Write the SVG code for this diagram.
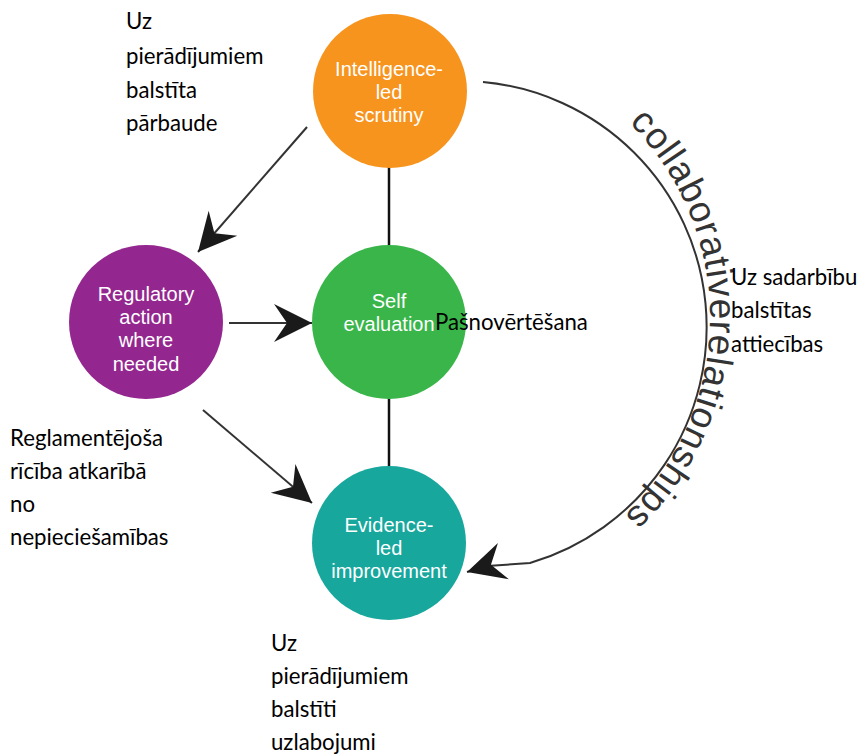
<svg xmlns="http://www.w3.org/2000/svg" width="858" height="755" viewBox="0 0 858 755">
<style>
.node-text{font-family:"Liberation Sans",Arial,sans-serif;font-size:20px;fill:#ffffff;text-anchor:middle}
.label{font-family:Lato,"Noto Sans",sans-serif;font-size:22.2px;fill:#000000}
.conn{stroke:#333333;stroke-width:2;fill:none}
.link{stroke:#111111;stroke-width:2.5;fill:none}
.curve-text{font-family:"Liberation Sans",Arial,sans-serif;font-size:37px;fill:#333333}
</style>
<defs>
<marker id="ah" markerUnits="userSpaceOnUse" markerWidth="42" markerHeight="42" viewBox="-40 -21 42 42" refX="0" refY="0" orient="auto" overflow="visible">
<path d="M0,0 L-38,-19 L-25,0 L-38,19 Z" fill="#1a1a1a"/>
</marker>
<path id="textArc" d="M623.2,117.3 A273,273 0 0 1 573.5,553.4"/>
</defs>
<rect width="858" height="755" fill="#ffffff"/>
<g id="connectors">
<line class="link" x1="389" y1="166" x2="389" y2="247"/>
<line class="link" x1="389" y1="397" x2="389" y2="468"/>
<line class="conn" x1="307" y1="127" x2="198" y2="252" marker-end="url(#ah)"/>
<line class="conn" x1="229" y1="323" x2="312" y2="323" marker-end="url(#ah)"/>
<line class="conn" x1="203" y1="410" x2="312" y2="503" marker-end="url(#ah)"/>
<path class="conn" d="M483,82 A246,246 0 0 1 530,563 L487,566 L467,572" marker-end="url(#ah)"/>
</g>
<g id="intelligence-led-scrutiny">
<circle cx="390" cy="91" r="77" fill="#F7941E"/>
<text class="node-text"><tspan x="389" y="76">Intelligence-</tspan><tspan x="389" y="99">led</tspan><tspan x="389" y="122">scrutiny</tspan></text>
</g>
<g id="regulatory-action">
<circle cx="146" cy="322" r="77" fill="#93278F"/>
<text class="node-text"><tspan x="146" y="301">Regulatory</tspan><tspan x="146" y="324">action</tspan><tspan x="146" y="347">where</tspan><tspan x="146" y="371">needed</tspan></text>
</g>
<g id="self-evaluation">
<circle cx="389" cy="322" r="77" fill="#39B54A"/>
<text class="node-text"><tspan x="389" y="308">Self</tspan><tspan x="389" y="331">evaluation</tspan></text>
</g>
<g id="evidence-led-improvement">
<circle cx="389" cy="543" r="77" fill="#17A79D"/>
<text class="node-text"><tspan x="389" y="532">Evidence-</tspan><tspan x="389" y="555">led</tspan><tspan x="389" y="578">improvement</tspan></text>
</g>
<g id="collaborative-relationships">
<text class="curve-text"><textPath href="#textArc" startOffset="8" textLength="438" lengthAdjust="spacing">collaborativerelationships</textPath></text>
</g>
<g id="labels">
<text class="label"><tspan x="126" y="29">Uz</tspan><tspan x="126" y="64">pierādījumiem</tspan><tspan x="126" y="98">balstīta</tspan><tspan x="126" y="131">pārbaude</tspan></text>
<text class="label"><tspan x="10" y="446">Reglamentējoša</tspan><tspan x="10" y="479">rīcība atkarībā</tspan><tspan x="10" y="512">no</tspan><tspan x="10" y="545">nepieciešamības</tspan></text>
<text class="label"><tspan x="271" y="651">Uz</tspan><tspan x="271" y="684">pierādījumiem</tspan><tspan x="271" y="717">balstīti</tspan><tspan x="271" y="750">uzlabojumi</tspan></text>
<text class="label" x="435" y="330">Pašnovērtēšana</text>
<text class="label"><tspan x="731" y="285">Uz sadarbību</tspan><tspan x="731" y="318">balstītas</tspan><tspan x="731" y="352">attiecības</tspan></text>
</g>
</svg>
